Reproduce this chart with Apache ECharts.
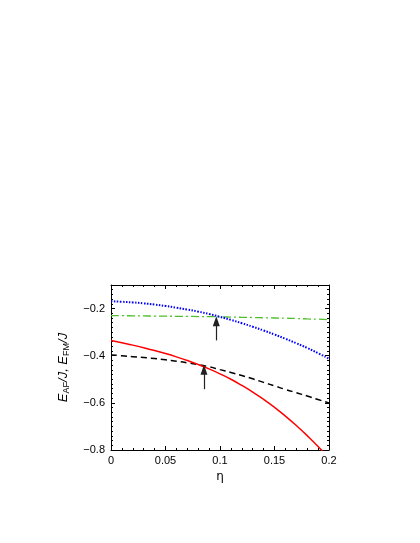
<!DOCTYPE html>
<html>
<head>
<meta charset="utf-8">
<script src="https://cdn.jsdelivr.net/npm/echarts@6/dist/echarts.min.js"></script>
<style>
  html, body { margin: 0; padding: 0; background: #fff; }
  #chart { width: 420px; height: 543px; }
</style>
</head>
<body>
<div id="chart"></div>
<script>
// eta values (x)
const eta = [0, 0.01, 0.02, 0.03, 0.04, 0.05, 0.06, 0.07, 0.08, 0.09, 0.10,
             0.11, 0.12, 0.13, 0.14, 0.15, 0.16, 0.17, 0.18, 0.19, 0.20];

// energies
const blueDotted = [-0.169, -0.171, -0.174, -0.178, -0.183, -0.189, -0.196, -0.204, -0.213, -0.223, -0.235,
                    -0.248, -0.262, -0.277, -0.293, -0.310, -0.328, -0.347, -0.367, -0.389, -0.413];
const greenDashDot = [-0.230, -0.230, -0.231, -0.231, -0.232, -0.232, -0.233, -0.233, -0.234, -0.234, -0.235,
                      -0.236, -0.237, -0.238, -0.239, -0.240, -0.241, -0.242, -0.244, -0.245, -0.247];
const redSolid = [-0.335, -0.345, -0.355, -0.366, -0.378, -0.391, -0.405, -0.420, -0.437, -0.456, -0.477,
                  -0.500, -0.526, -0.554, -0.585, -0.619, -0.656, -0.696, -0.739, -0.785, -0.835];
const blackDashed = [-0.397, -0.400, -0.404, -0.408, -0.412, -0.417, -0.423, -0.430, -0.438, -0.447, -0.459,
                     -0.471, -0.484, -0.498, -0.513, -0.528, -0.543, -0.557, -0.571, -0.586, -0.600];

// arrows: [x, yTail, yTip]
const arrowUpper = [0.0966, -0.335, -0.254];
const arrowLower = [0.0853, -0.542, -0.460];

const pairs = (ys) => eta.map((x, i) => [x, ys[i]]);
const minus = (v) => String(v).replace('-', '\u2212');

const chart = echarts.init(document.getElementById('chart'));

const labelStyle = { color: '#000', fontSize: 11, fontFamily: 'Liberation Sans, Arial, sans-serif' };

// frame line + ticks pointing into the plot box
const line = { show: true, onZero: false, lineStyle: { color: '#000', width: 1 } };
const tick = { show: true, inside: true, length: 4, lineStyle: { color: '#000' } };
const minor = (n) => ({ show: true, splitNumber: n, length: 2, lineStyle: { color: '#000' } });

const arrowLine = (a) => ({
  silent: true,
  symbol: ['none', 'triangle'],
  symbolSize: [7, 10],
  label: { show: false },
  lineStyle: { color: '#222', width: 1.2, type: 'solid' },
  data: [[{ coord: [a[0], a[1]] }, { coord: [a[0], a[2]] }]]
});

const option = {
  animation: false,
  grid: { left: 111, right: 91, top: 285, bottom: 93 },
  xAxis: [
    {
      type: 'value', min: 0, max: 0.2, interval: 0.05,
      name: '\u03b7', nameLocation: 'middle', nameGap: 21,
      nameTextStyle: { color: '#000', fontSize: 12, fontFamily: 'DejaVu Sans, sans-serif' },
      axisLine: line,
      axisTick: tick,
      minorTick: minor(5),
      axisLabel: Object.assign({ margin: 5, formatter: (v) => String(v) }, labelStyle),
      splitLine: { show: false }
    },
    {
      type: 'value', min: 0, max: 0.2, interval: 0.05, position: 'top',
      axisLine: line,
      axisTick: tick,
      minorTick: minor(5),
      axisLabel: { show: false },
      splitLine: { show: false }
    }
  ],
  yAxis: [
    {
      type: 'value', min: -0.8, max: -0.1, interval: 0.2,
      name: '{i|E}{s|AF}{i|/J, E}{s|FM}{i|/J}',
      nameLocation: 'middle', nameGap: 40, nameRotate: 90,
      nameTextStyle: {
        color: '#000',
        rich: {
          i: { fontFamily: 'Liberation Sans, sans-serif', fontStyle: 'italic', fontSize: 13, color: '#000' },
          s: { fontFamily: 'Liberation Sans, sans-serif', fontSize: 9, color: '#000', padding: [6, 0, 0, 0] }
        }
      },
      axisLine: line,
      axisTick: tick,
      minorTick: minor(10),
      axisLabel: Object.assign({ margin: 6, showMaxLabel: false, formatter: (v) => minus(v) }, labelStyle),
      splitLine: { show: false }
    },
    {
      type: 'value', min: -0.8, max: -0.1, interval: 0.2, position: 'right',
      axisLine: line,
      axisTick: tick,
      minorTick: minor(10),
      axisLabel: { show: false },
      splitLine: { show: false }
    }
  ],
  series: [
    {
      type: 'line', data: pairs(greenDashDot), showSymbol: false, smooth: true,
      lineStyle: { color: '#4cbf2a', width: 1.3, type: [8, 3, 2, 3] },
      markLine: arrowLine(arrowUpper)
    },
    {
      type: 'line', data: pairs(blueDotted), showSymbol: false, smooth: true,
      lineStyle: { color: '#0000ff', width: 2, type: [1.5, 1.5] }
    },
    {
      type: 'line', data: pairs(blackDashed), showSymbol: false, smooth: true,
      lineStyle: { color: '#000', width: 1.5, type: [6, 4] },
      markLine: arrowLine(arrowLower)
    },
    {
      type: 'line', data: pairs(redSolid), showSymbol: false, smooth: true,
      lineStyle: { color: '#ff0000', width: 1.5 }
    }
  ]
};

chart.setOption(option);
</script>
</body>
</html>
